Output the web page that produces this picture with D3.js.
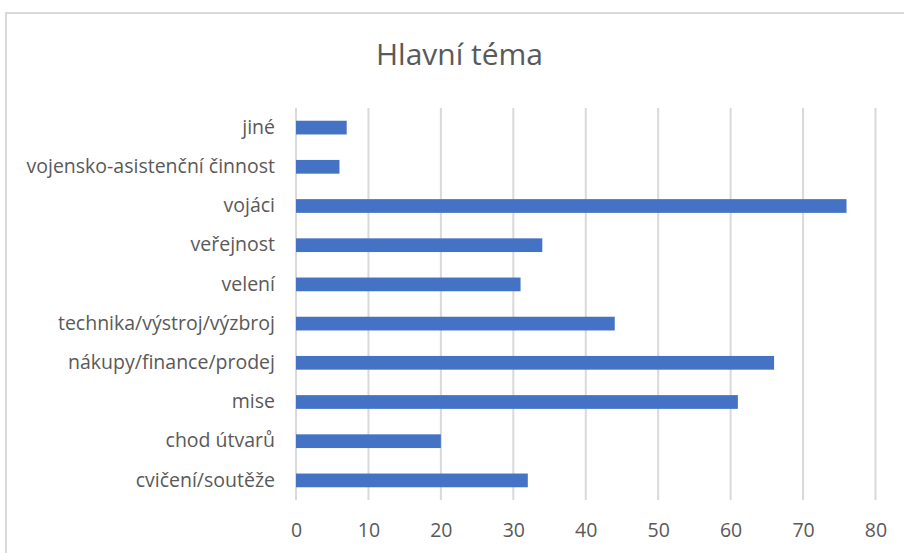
<!DOCTYPE html>
<html>
<head>
<meta charset="utf-8">
<script src="https://cdn.jsdelivr.net/npm/d3@7"></script>
<style>
  html, body { margin: 0; padding: 0; background: #fff; }
  svg { display: block; }
  text { font-family: "Open Sans", "Noto Sans", sans-serif; fill: #595959; }
</style>
</head>
<body>
<svg id="chart" width="904" height="553"></svg>
<script>
const title = "Hlavní téma";
const categories = [
  "jiné",
  "vojensko-asistenční činnost",
  "vojáci",
  "veřejnost",
  "velení",
  "technika/výstroj/výzbroj",
  "nákupy/finance/prodej",
  "mise",
  "chod útvarů",
  "cvičení/soutěže"
];
const values = [7, 6, 76, 34, 31, 44, 66, 61, 20, 32];
const xTicks = [0, 10, 20, 30, 40, 50, 60, 70, 80];

const svg = d3.select("#chart");
const W = 904, H = 553;
const margin = { left: 296, right: 28, top: 108, bottom: 53 };

// chart frame (cropped at right and bottom)
svg.append("rect")
  .attr("x", 6).attr("y", 13)
  .attr("width", W + 20).attr("height", H + 20)
  .attr("fill", "#fff")
  .attr("stroke", "#d9d9d9")
  .attr("stroke-width", 2);

const x = d3.scaleLinear().domain([0, 80]).range([margin.left, 875.5]);
const y = d3.scaleBand().domain(categories)
  .range([margin.top, H - margin.bottom])
  .paddingInner(0.65).paddingOuter(0.325);

// gridlines
svg.append("g").selectAll("line").data(xTicks).join("line")
  .attr("x1", d => x(d)).attr("x2", d => x(d))
  .attr("y1", margin.top).attr("y2", H - margin.bottom)
  .attr("stroke", "#d9d9d9").attr("stroke-width", 2);

// bars
svg.append("g").selectAll("rect").data(categories).join("rect")
  .attr("x", x(0))
  .attr("y", d => y(d))
  .attr("width", (d, i) => x(values[i]) - x(0))
  .attr("height", y.bandwidth())
  .attr("fill", "#4472c4");

// x axis labels
const xAxis = d3.axisBottom(x).tickValues(xTicks).tickSize(0).tickPadding(0);
const gx = svg.append("g").attr("transform", `translate(0,${H - margin.bottom})`).call(xAxis);
gx.select(".domain").remove();
gx.selectAll("text")
  .attr("dy", null)
  .attr("y", 37)
  .style("font-size", "19.5px")
  .style("fill", "#595959");

// y axis labels
const yAxis = d3.axisLeft(y).tickSize(0).tickPadding(21);
const gy = svg.append("g").attr("transform", `translate(${margin.left},0)`).call(yAxis);
gy.select(".domain").remove();
gy.selectAll("text")
  .style("font-size", "19.5px")
  .style("fill", "#595959");

// title
svg.append("text")
  .attr("x", 459.5).attr("y", 65)
  .attr("text-anchor", "middle")
  .style("font-size", "30px")
  .style("fill", "#595959")
  .text(title);
</script>
</body>
</html>
